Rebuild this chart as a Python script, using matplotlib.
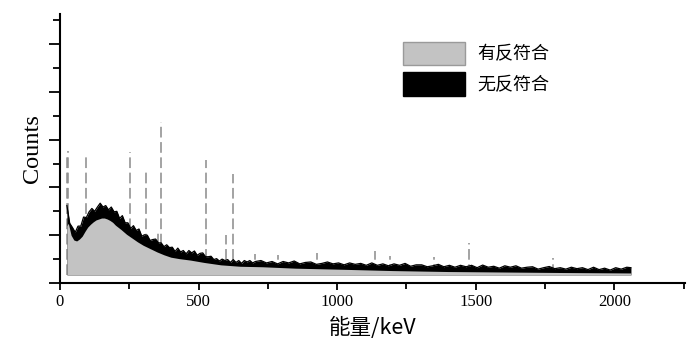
import numpy as np
import matplotlib
matplotlib.use("Agg")
import matplotlib.pyplot as plt
from matplotlib.patches import Patch
from matplotlib.ticker import MultipleLocator

# --- data (arbitrary count units) ---
# spectrum without anticoincidence (black): top edge of the noisy band
energy_black = list(range(25, 706, 10)) + list(range(725, 2046, 20)) + [2060]
counts_black = [
    # 25 - 705 keV, 10 keV bins
    1.62, 1.25, 1.16, 1.06, 1.19, 1.19, 1.38, 1.37, 1.49, 1.56,
    1.50, 1.59, 1.67, 1.59, 1.62, 1.53, 1.59, 1.49, 1.50, 1.35,
    1.41, 1.26, 1.26, 1.14, 1.20, 1.10, 1.13, 0.98, 1.01, 1.00,
    0.89, 0.91, 0.92, 0.84, 0.84, 0.76, 0.80, 0.74, 0.75, 0.66,
    0.73, 0.65, 0.68, 0.61, 0.68, 0.63, 0.67, 0.58, 0.62, 0.63,
    0.55, 0.55, 0.56, 0.49, 0.51, 0.46, 0.50, 0.47, 0.49, 0.43,
    0.49, 0.43, 0.47, 0.41, 0.47, 0.44, 0.47, 0.42, 0.45,
    # 725 - 2045 keV, 20 keV bins
    0.47, 0.42, 0.45, 0.40, 0.45, 0.42, 0.46, 0.40, 0.43, 0.44,
    0.39, 0.41, 0.44, 0.40, 0.42, 0.38, 0.42, 0.39, 0.41, 0.37,
    0.42, 0.37, 0.40, 0.36, 0.40, 0.37, 0.41, 0.35, 0.38, 0.38,
    0.34, 0.36, 0.39, 0.34, 0.37, 0.33, 0.37, 0.34, 0.37, 0.32,
    0.375, 0.33, 0.35, 0.31, 0.36, 0.33, 0.36, 0.31, 0.33, 0.34,
    0.29, 0.32, 0.345, 0.30, 0.32, 0.29, 0.33, 0.30, 0.32, 0.28,
    0.33, 0.28, 0.31, 0.27, 0.32, 0.29, 0.33,
    # 2060 keV
    0.32]

# spectrum with anticoincidence (grey)
energy_gray = [25, 30, 40, 50, 60, 70, 80, 90, 100, 110, 120, 130, 140, 150, 160,
               170, 180, 190, 200, 220, 240, 260, 280, 300, 325, 350, 375, 400,
               430, 470, 520, 580, 650, 730, 850, 1000, 1200, 1400, 1600, 1800, 2060]
counts_gray = [1.20, 1.25, 1.00, 0.90, 0.88, 0.92, 0.98, 1.08, 1.17, 1.23, 1.28,
               1.32, 1.34, 1.36, 1.36, 1.34, 1.31, 1.27, 1.21, 1.12, 1.02, 0.94,
               0.86, 0.79, 0.72, 0.65, 0.59, 0.54, 0.51, 0.48, 0.43, 0.38, 0.35,
               0.34, 0.31, 0.29, 0.26, 0.24, 0.23, 0.22, 0.21]
baseline = 0.17

peak_energy = [24, 30, 94, 254, 312, 353, 366, 525, 598, 623, 702, 786, 927,
               1135, 1189, 1349, 1476, 1778]
peak_top = [2.70, 2.76, 2.72, 2.74, 2.34, 1.05, 3.37, 2.57, 1.00, 2.28, 0.61,
            0.58, 0.63, 0.67, 0.56, 0.54, 0.84, 0.52]

xticks = [0, 500, 1000, 1500, 2000]
labels = ["有反符合", "无反符合"]

# --- figure ---
fig = plt.figure(figsize=(7.0, 3.52), dpi=100)
ax = fig.add_axes([60/700, 1-283/352, 625/700, 269/352])

ax.vlines(peak_energy, baseline, peak_top, color="#8a8a8a", lw=1.1,
          linestyles=(0, (7, 3)), zorder=1)
ax.fill_between(energy_black, baseline, counts_black, color="black", lw=0, zorder=2)
ax.plot(energy_black, counts_black, color="black", lw=0.9, zorder=2)
ax.fill_between(energy_gray, baseline, counts_gray, color="#c3c3c3", lw=0, zorder=3)

ax.set_xlim(0, 2255)
ax.set_ylim(0, 5.63)
ax.set_xticks(xticks)
ax.xaxis.set_minor_locator(MultipleLocator(250))
ax.yaxis.set_major_locator(MultipleLocator(1))
ax.yaxis.set_minor_locator(MultipleLocator(0.5))
ax.set_yticklabels([])
for s in ["top", "right"]:
    ax.spines[s].set_visible(False)
for s in ["left", "bottom"]:
    ax.spines[s].set_linewidth(1.5)
ax.tick_params(axis="y", which="major", length=8, width=1.3, direction="out")
ax.tick_params(axis="y", which="minor", length=5, width=1.3, direction="out")
ax.tick_params(axis="x", which="major", length=5, width=1.3, direction="out", pad=3)
ax.tick_params(axis="x", which="minor", length=4, width=1.3, direction="out")
for t in ax.get_xticklabels():
    t.set_fontfamily("Liberation Serif")
    t.set_fontsize(12)

ax.set_ylabel("Counts", family="Liberation Serif", fontsize=17.5, labelpad=1)
ax.set_xlabel("能量/keV", family=["Noto Sans CJK SC", "DejaVu Sans"], fontsize=15.5, labelpad=5)

handles = [Patch(facecolor="#c3c3c3", edgecolor="#9a9a9a", lw=1.0),
           Patch(facecolor="black", edgecolor="black")]
ax.legend(handles, labels, loc="upper left", bbox_to_anchor=(0.548, 0.896),
          frameon=False, prop={"family": ["Noto Sans CJK SC", "DejaVu Sans"], "size": 13},
          handlelength=3.45, handleheight=1.6, handletextpad=0.7, labelspacing=0.4,
          borderaxespad=0, borderpad=0)

fig.savefig("out.png", dpi=100)
